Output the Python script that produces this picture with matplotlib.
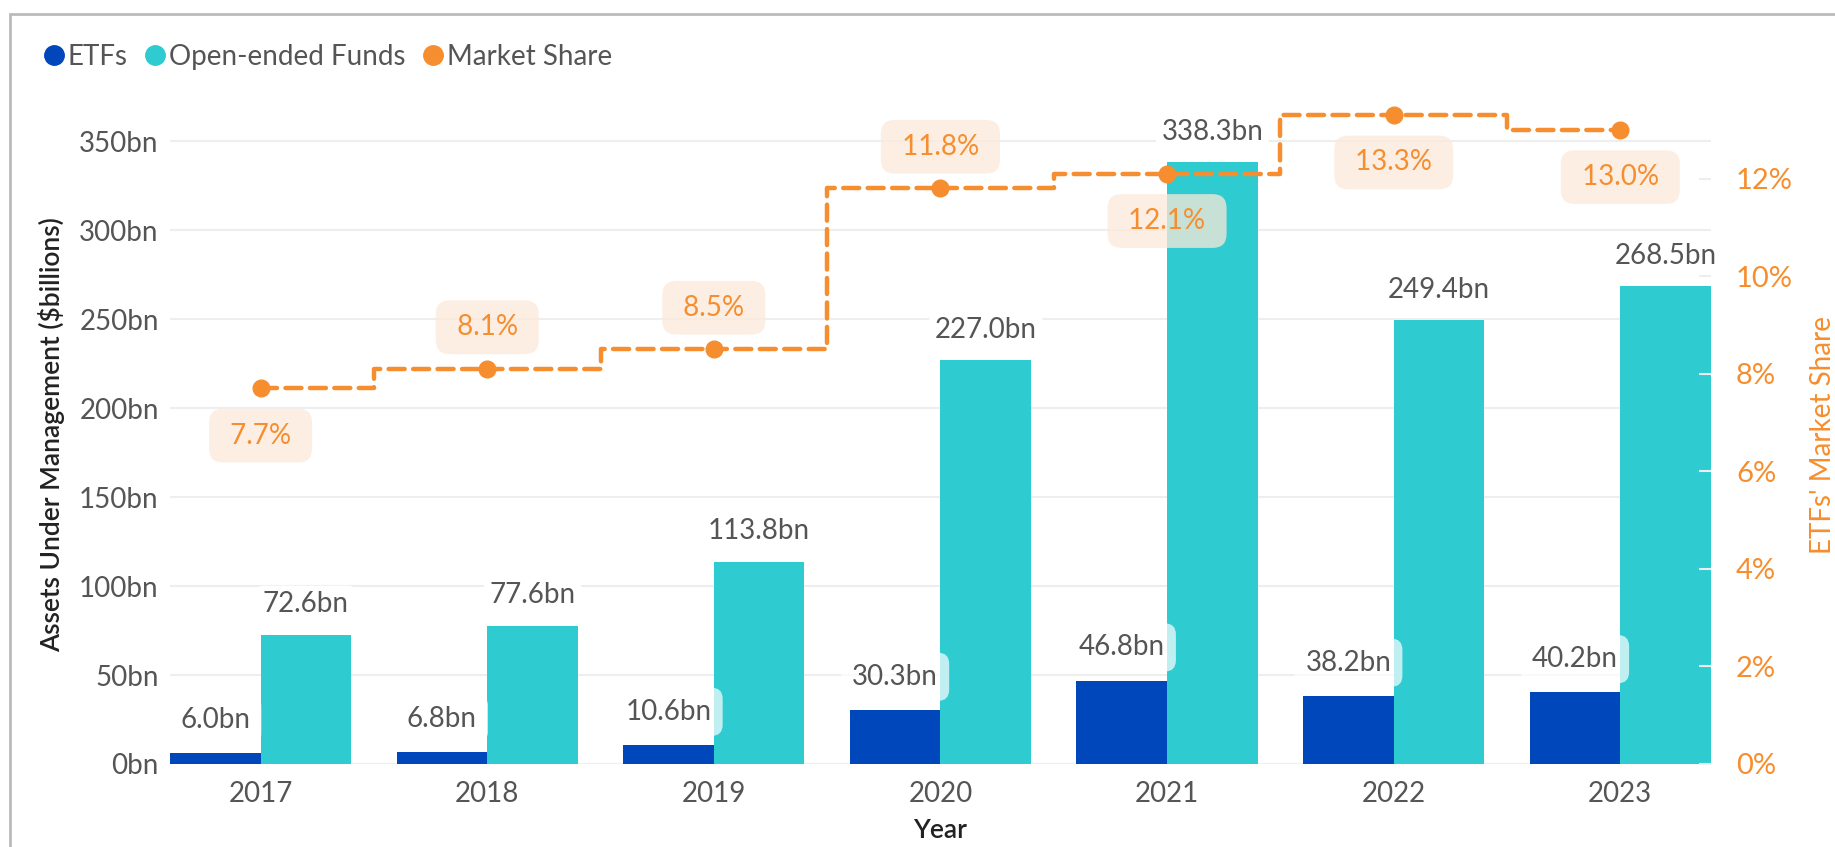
import numpy as np
import matplotlib
matplotlib.use("Agg")
import matplotlib.pyplot as plt
from matplotlib.lines import Line2D
from matplotlib.patches import Rectangle

plt.rcParams['font.family'] = ['Lato', 'DejaVu Sans']

# data
years = ['2017', '2018', '2019', '2020', '2021', '2022', '2023']
etfs = [6.0, 6.8, 10.6, 30.3, 46.8, 38.2, 40.2]
open_ended = [72.6, 77.6, 113.8, 227.0, 338.3, 249.4, 268.5]
market_share = [7.7, 8.1, 8.5, 11.8, 12.1, 13.3, 13.0]
share_label_above = [False, True, True, True, False, False, False]

blue = '#0047BB'
teal = '#2ECBD1'
orange = '#F68E2F'
grey = '#555555'

fig = plt.figure(figsize=(18.35, 8.47), dpi=100)
ax = fig.add_axes([0.0926, 0.098, 0.8398, 0.778])
ax2 = ax.twinx()

x = np.arange(len(years))
w = 0.4
ax.bar(x - w / 2, etfs, w, color=blue, zorder=2)
ax.bar(x + w / 2, open_ended, w, color=teal, zorder=2)

for i in range(len(years)):
    ax.annotate(f'{etfs[i]:.1f}bn', (x[i] - w / 2, etfs[i]), xytext=(0, 24),
                textcoords='offset points', ha='center', va='center',
                fontsize=20, color=grey, zorder=3,
                bbox=dict(boxstyle='round,pad=0.4', fc='white', ec='none', alpha=0.7))
    ax.annotate(f'{open_ended[i]:.1f}bn', (x[i] + w / 2, open_ended[i]), xytext=(0, 22),
                textcoords='offset points', ha='center', va='center',
                fontsize=20, color=grey, zorder=3,
                bbox=dict(boxstyle='round,pad=0.2', fc='white', ec='none'))

ax.set_xlim(-0.4, 6.4)
ax.set_ylim(0, 370.5)
ax.set_yticks(range(0, 351, 50))
ax.set_yticklabels([f'{v}bn' for v in range(0, 351, 50)])
ax.set_xticks(x)
ax.set_xticklabels(years)
ax.grid(axis='y', color='#EEEEEE', lw=1.5, zorder=0)
ax.set_axisbelow(True)
ax.tick_params(axis='both', length=0, labelsize=20, labelcolor=grey)
ax.tick_params(axis='x', pad=12)
ax.tick_params(axis='y', pad=8)
for s in ax.spines.values():
    s.set_visible(False)
ax.set_ylabel('Assets Under Management ($billions)', fontsize=19, color='#222222',
              fontweight='semibold', labelpad=10)
ax.set_xlabel('Year', fontsize=19, color='#222222', fontweight='semibold', labelpad=8)

# market share step line
ax2.plot(x, market_share, drawstyle='steps-mid', color=orange, lw=3.2,
         ls=(0, (3.6, 1.9)), dash_capstyle='round', zorder=4)
ax2.plot(x, market_share, 'o', color=orange, ms=12, zorder=5)
for i in range(len(years)):
    dy = 30 if share_label_above[i] else -34
    ax2.annotate(f' {market_share[i]:.1f}% ', (x[i], market_share[i]), xytext=(0, dy),
                 textcoords='offset points', ha='center', va='center',
                 fontsize=20, color=orange, zorder=6,
                 bbox=dict(boxstyle='round,pad=0.5', fc='#FCE9DA', ec='none', alpha=0.75))
ax2.set_ylim(0, 13.51)
ax2.set_yticks(range(0, 13, 2))
ax2.set_yticklabels([f'{v}%' for v in range(0, 13, 2)])
ax2.tick_params(axis='y', direction='in', length=9, color='#EEEEEE', width=1.5,
                labelsize=21, labelcolor=orange, pad=18)
for s in ax2.spines.values():
    s.set_visible(False)
ax2.set_ylabel("ETFs' Market Share", fontsize=20, color=orange, labelpad=12)

handles = [Line2D([], [], marker='o', ls='none', color=c, ms=14) for c in (blue, teal, orange)]
fig.legend(handles, ['ETFs', 'Open-ended Funds', 'Market Share'], loc='upper left',
           bbox_to_anchor=(0.008, 0.978), ncol=3, frameon=False, fontsize=20,
           labelcolor=grey, handletextpad=0.0, columnspacing=0.5, handlelength=1.0)

fig.patches.append(Rectangle((10 / 1835, -0.1), 1.2, 1 - 14 / 847 + 0.1,
                             transform=fig.transFigure, fill=False,
                             ec='#BBBBBB', lw=2))

fig.savefig('out.png', dpi=100)
